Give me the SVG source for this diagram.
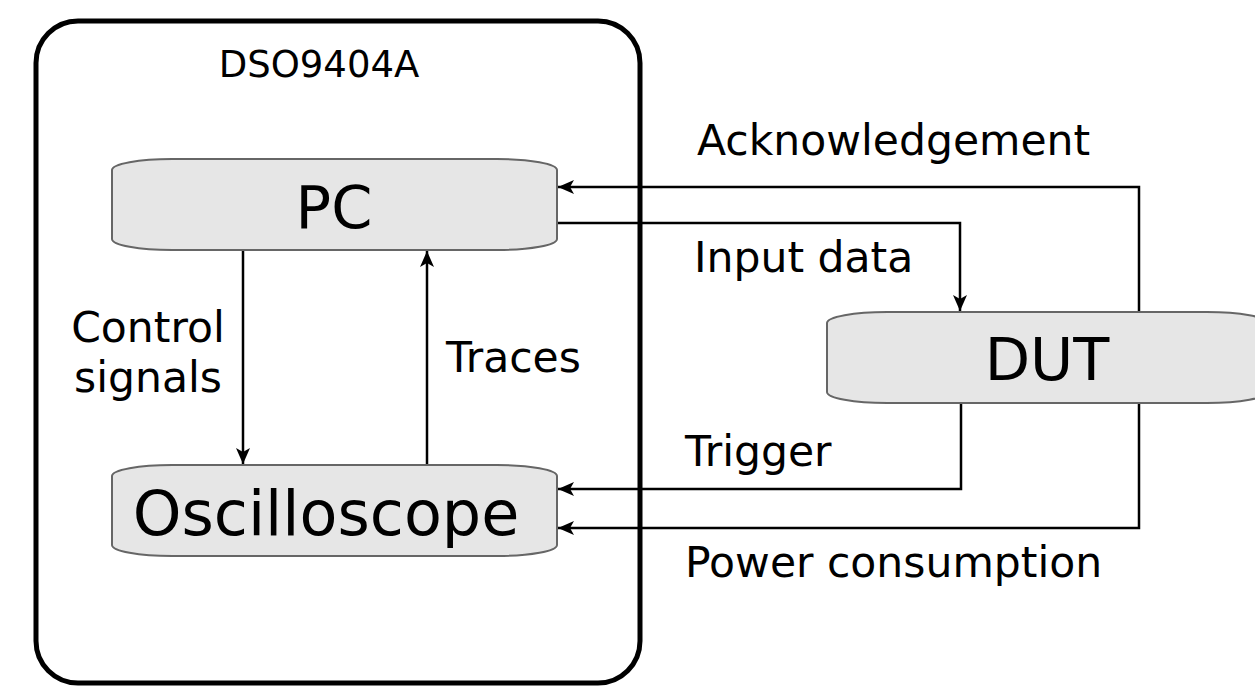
<svg xmlns="http://www.w3.org/2000/svg" width="1255" height="687" viewBox="0 0 1255 687">
<style>
.box{fill:#e6e6e6;stroke:#666;stroke-width:2}
.lbl{font-family:"DejaVu Sans","Liberation Sans",sans-serif;fill:#000}
.big{font-size:59px;text-anchor:middle}
.mid{font-size:42.5px}
.ln{fill:none;stroke:#000;stroke-width:2.5}
</style>
<defs>
<marker id="ah" viewBox="0 0 16 14" refX="16" refY="7" markerWidth="16" markerHeight="14" markerUnits="userSpaceOnUse" orient="auto">
<path d="M0,0 L16,7 L0,14 L4,7 Z" fill="#000"/>
</marker>
</defs>
<rect width="1255" height="687" fill="#fff"/>
<g id="dso">
<rect x="36" y="21" width="604" height="662" rx="42" ry="42" fill="none" stroke="#000" stroke-width="5"/>
<text class="lbl" x="319" y="77" font-size="37" text-anchor="middle">DSO9404A</text>
</g>
<g id="connectors">
<path class="ln" d="M1139,312 V187 H558" marker-end="url(#ah)"/>
<path class="ln" d="M557,223 H960 V311" marker-end="url(#ah)"/>
<path class="ln" d="M961,404 V489 H558" marker-end="url(#ah)"/>
<path class="ln" d="M1139,404 V528 H558" marker-end="url(#ah)"/>
<path class="ln" d="M243,251 V464" marker-end="url(#ah)"/>
<path class="ln" d="M427,465 V251" marker-end="url(#ah)"/>
<text class="lbl mid" x="697" y="155">Acknowledgement</text>
<text class="lbl mid" x="694" y="272">Input data</text>
<text class="lbl mid" x="685" y="466">Trigger</text>
<text class="lbl mid" x="685" y="577">Power consumption</text>
<text class="lbl mid" x="148" y="342" text-anchor="middle">Control</text>
<text class="lbl mid" x="148" y="392" text-anchor="middle">signals</text>
<text class="lbl mid" x="446" y="372">Traces</text>
</g>
<g id="pc">
<rect class="box" x="112" y="159" width="445" height="91" rx="60" ry="11"/>
<text class="lbl big" x="334" y="228">PC</text>
</g>
<g id="osc">
<rect class="box" x="112" y="465" width="445" height="91" rx="60" ry="11"/>
<text class="lbl big" x="326" y="535" style="font-size:62px">Oscilloscope</text>
</g>
<g id="dut">
<rect class="box" x="827" y="312" width="440" height="91" rx="60" ry="11"/>
<text class="lbl big" x="1047" y="380">DUT</text>
</g>
</svg>
